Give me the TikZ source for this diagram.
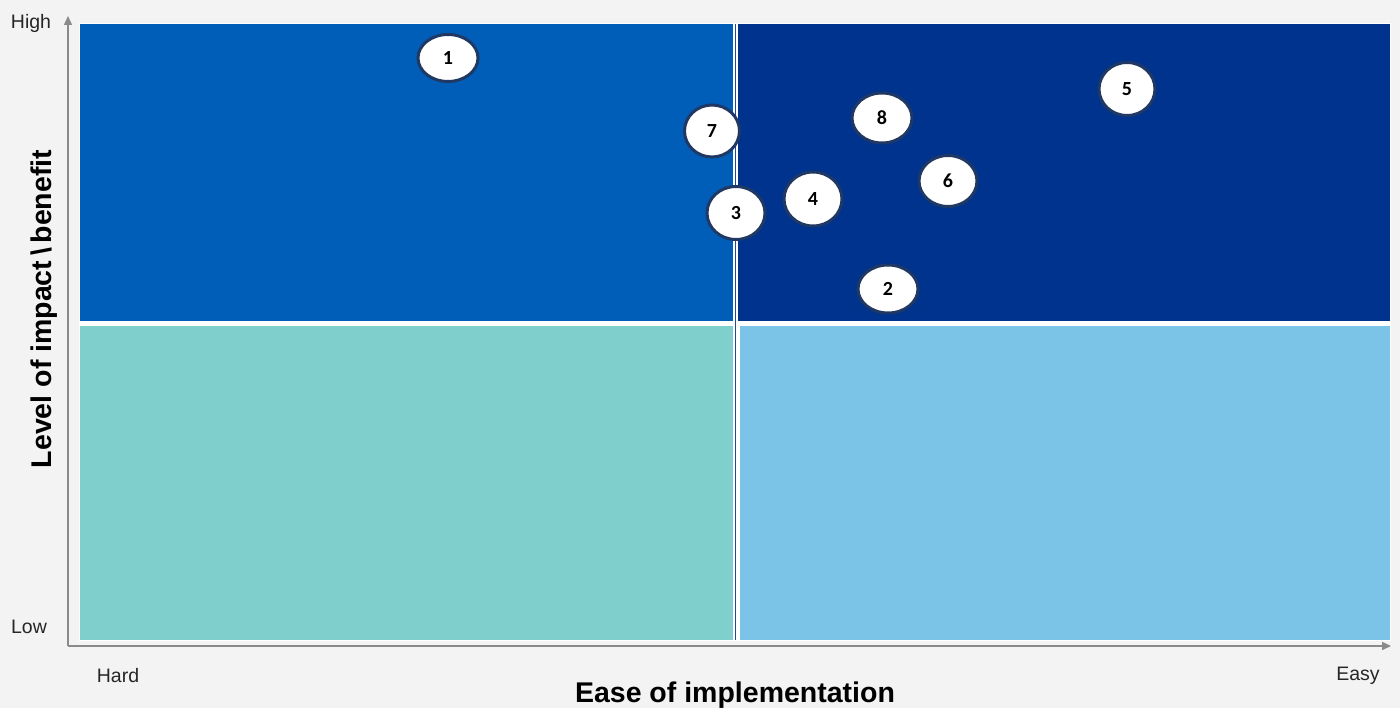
\documentclass[tikz,border=0pt]{standalone}
\usepackage{fontspec}
\setmainfont{Liberation Sans}
\newfontfamily\numfont{Carlito}
\usetikzlibrary{shapes.geometric,arrows.meta}
\definecolor{bgc}{HTML}{F3F3F3}
\definecolor{qtl}{HTML}{005EB8}
\definecolor{qtr}{HTML}{00338D}
\definecolor{qbl}{HTML}{7FCFCC}
\definecolor{qbr}{HTML}{7CC3E8}
\definecolor{divc}{HTML}{1E4AA0}
\definecolor{ringc}{HTML}{1F3864}
\definecolor{axisc}{HTML}{8A8A8A}
\tikzset{
  item/.style={ellipse, draw=ringc, line width=3pt, fill=white, inner sep=0pt,
    minimum width=58pt, minimum height=50pt,
    font=\numfont\bfseries\fontsize{20}{20}\selectfont, text=black},
  axisline/.style={draw=axisc, line width=1.5pt, -{Triangle[length=9pt,width=8pt]}},
  ticklabel/.style={font=\fontsize{19.5}{20}\selectfont, text=black!85, inner sep=0pt},
  axtitle/.style={font=\bfseries\fontsize{28.5}{28}\selectfont, text=black, inner sep=0pt}
}
\begin{document}
\begin{tikzpicture}[x=1pt,y=-1pt]
\fill[bgc] (0,0) rectangle (1400,708);
\useasboundingbox (0,0) rectangle (1400,708);
% quadrant area
\fill[white] (79,23) rectangle (1391,641);
\fill[qtl] (80,24) rectangle (733,321);
\fill[qtr] (738,24) rectangle (1390,321);
\fill[qbl] (80,326) rectangle (733,640);
\fill[qbr] (740,326) rectangle (1390,640);
\coordinate (dtop) at (735.5,24);
\coordinate (dbot) at (735.5,640);
\draw[divc, line width=1.5pt] (dtop) -- (dbot);
% axes
\coordinate (origin) at (68,646);
\coordinate (ytip) at (68,16);
\coordinate (xtip) at (1391,646);
\draw[axisline] (origin) -- (ytip);
\draw[axisline] (origin) -- (xtip);
% axis labels
\node[ticklabel, anchor=base] (high) at (31,29) {High};
\node[ticklabel, anchor=base] (low) at (29,633) {Low};
\node[ticklabel, anchor=base] (hard) at (118,682) {Hard};
\node[ticklabel, anchor=base] (easy) at (1358,680) {Easy};
\node[axtitle, anchor=base] (xtitle) at (735,702) {Ease of implementation};
\node[axtitle, anchor=base, rotate=90] (ytitle) at (51,309) {Level of impact\,\textbackslash\,benefit};
% items
\node[item, minimum width=60pt, minimum height=47pt] (n1) at (448,58) {1};
\node[item, minimum width=55pt, minimum height=52pt] (n7) at (712,131) {7};
\node[item, minimum width=60pt, minimum height=50pt] (n8) at (882,118) {8};
\node[item, minimum width=56pt, minimum height=53pt] (n5) at (1127,89) {5};
\node[item, minimum width=58pt, minimum height=51pt] (n6) at (948,181) {6};
\node[item, minimum width=58pt, minimum height=54pt] (n4) at (813,199) {4};
\node[item, minimum width=58pt, minimum height=53pt] (n3) at (736,213) {3};
\node[item, minimum width=60pt, minimum height=48pt] (n2) at (888,289) {2};
\end{tikzpicture}
\end{document}
